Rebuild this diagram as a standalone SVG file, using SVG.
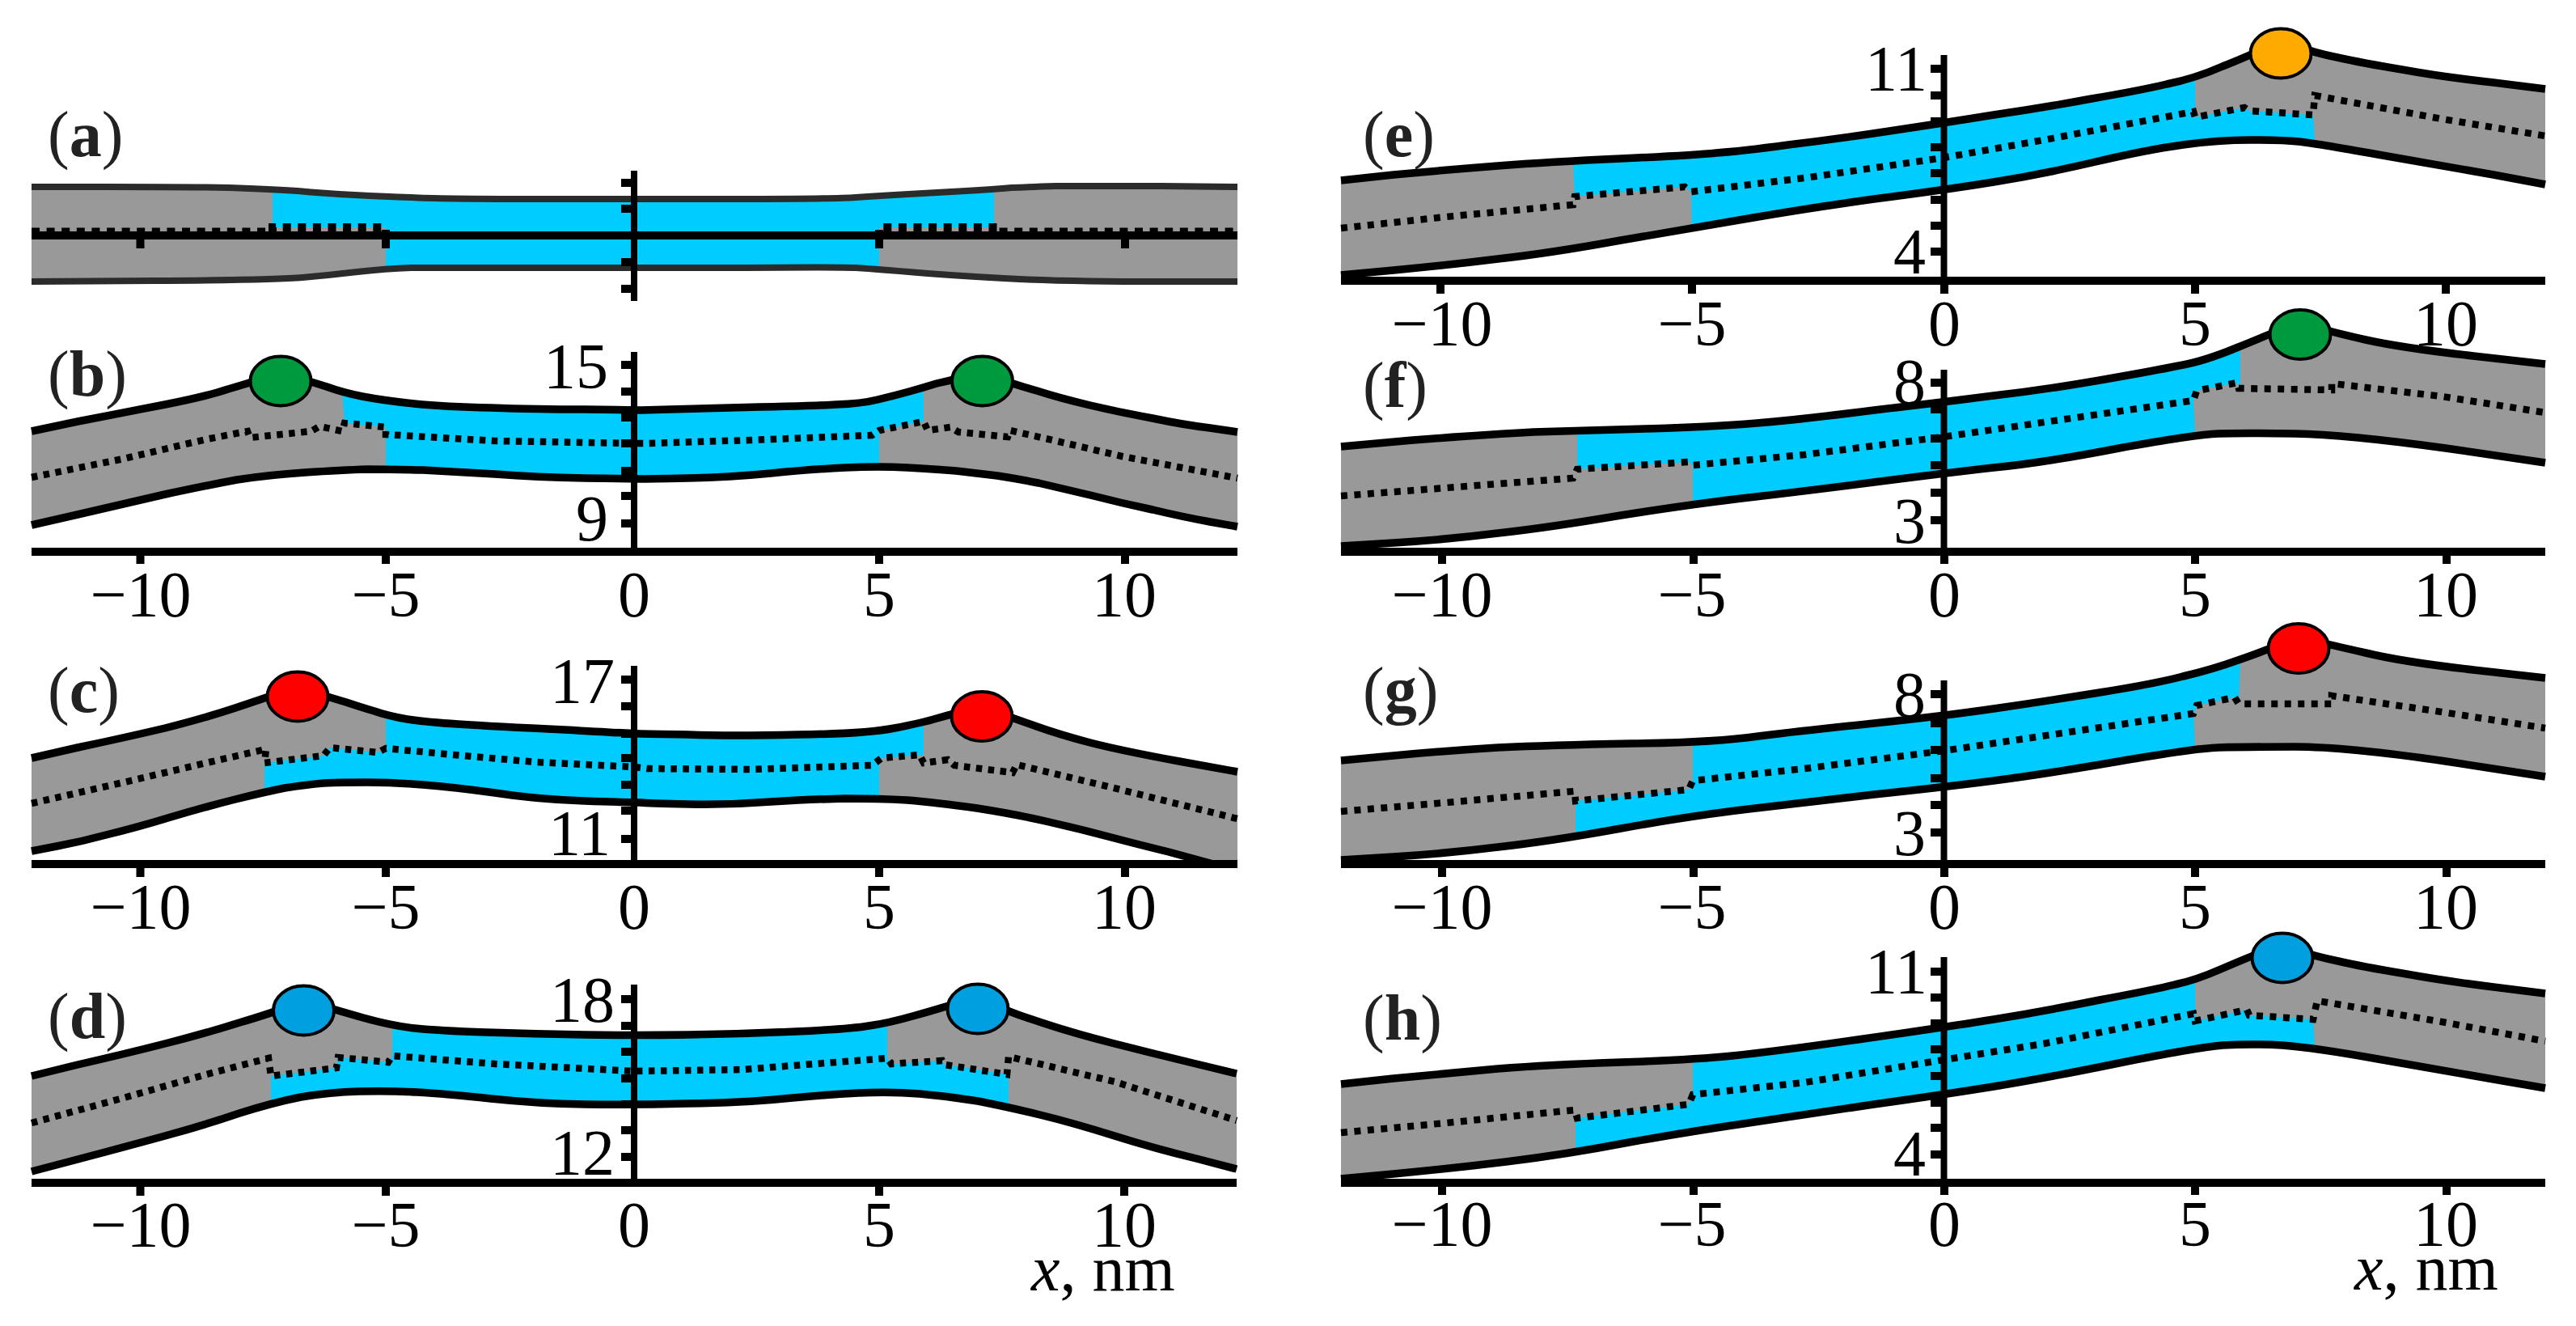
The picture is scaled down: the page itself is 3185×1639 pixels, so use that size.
<svg xmlns="http://www.w3.org/2000/svg" width="3185" height="1639" viewBox="0 0 3185 1639">
<style>
.bg{fill:#fff}
.g{fill:#999}
.b{fill:#0cf}
.e{fill:none;stroke:#000;stroke-width:9.500;stroke-linejoin:round}
.ea{fill:none;stroke:#2b2b2b;stroke-width:8;stroke-linejoin:round}
.d{fill:none;stroke:#000;stroke-width:8.500;stroke-dasharray:7.500 7.500}
.dr{fill:none;stroke:#000;stroke-width:8.500;stroke-dasharray:8 8.500}
.da{fill:none;stroke:#000;stroke-width:10;stroke-dasharray:10 8.600}
.ax{fill:none;stroke:#000;stroke-width:10}
.ay{fill:none;stroke:#000;stroke-width:8}
.c{stroke:#000;stroke-width:4}
text{font-family:"Liberation Serif","Times New Roman",serif;font-size:80px;fill:#000}
.n{text-anchor:middle}
.v{text-anchor:end}
.l{fill:#222}
.l tspan{font-weight:bold}
</style>
<rect class="bg" width="3185" height="1639"/>

<g id="panel-a">
<polygon class="g" points="39,231 230,231 337,234 400,239 477,243 540,246 784,246 1030,246 1087,242 1160,238 1229,234 1274,231 1340,230 1530,231 1530,348 1336,348 1183,341 1087,333 1030,330 784,331 540,331 477,332 408,340 340,346 39,348"/>
<polygon class="b" points="337,234 400,239 477,243 540,246 784,246 1030,246 1087,242 1160,238 1229,234 1229,281 1087,281 1087,333 1030,330 784,331 540,331 477,332 477,281 337,281"/>
<path class="ea" d="M39 231L134 231Q230 231 283 232Q337 234 368 236Q400 239 438 241Q477 243 508 244Q540 246 662 246L907 246Q1030 246 1058 244Q1087 242 1123 240Q1160 238 1194 236Q1229 234 1251 232Q1274 231 1307 230Q1340 230 1435 230L1530 231"/>
<path class="ea" d="M39 348L190 347Q340 346 374 343Q408 340 442 336Q477 332 508 331Q540 331 662 331L907 331Q1030 330 1058 331Q1087 333 1135 337Q1183 341 1260 345Q1336 348 1433 348L1530 348"/>
<path class="da" d="M39 286.500H337V281H477V291H1087V281H1233V286.500H1530"/>
<path class="ax" d="M39 291H1530M173.500 291V307M477 291V307M1087 291V307M1391 291V307M768 226H784M768 258H784M768 291H784M768 324H784M768 357H784"/>
<path class="ay" d="M784 211V372"/>
<text class="l" x="59" y="193">(<tspan>a</tspan>)</text>
</g>

<g id="panel-b">
<polygon class="g" points="39,533 153,510 255,490 309,473 347,462 386,472 423,485 474,495 551,503 663,506 784,507 800,507 1004,502 1065,499 1106,489 1142,479 1175,470 1214,462 1254,475 1310,492 1387,510 1463,525 1530,534 1530,651 1463,639 1387,622 1310,603 1259,592 1208,585 1157,580 1087,576 1004,580 902,590 800,592 784,592 663,590 561,583 485,580 423,581 332,587 255,600 153,623 39,649"/>
<polygon class="b" points="423,485 474,495 551,503 663,506 784,507 800,507 1004,502 1065,499 1106,489 1142,479 1142,521 1087,532 1087,576 1004,580 902,590 800,592 784,592 663,590 561,583 485,580 477,580 477,528 426,523"/>
<path class="e" d="M39 533L96 521Q153 510 204 500Q255 490 282 481Q309 473 328 467Q347 462 366 467Q386 472 404 478Q423 485 448 490Q474 495 512 499Q551 503 607 504Q663 506 723 506Q784 507 792 507Q800 507 902 504Q1004 502 1034 500Q1065 499 1085 494Q1106 489 1124 484Q1142 479 1158 474Q1175 470 1194 466Q1214 462 1234 468Q1254 475 1282 483Q1310 492 1348 501Q1387 510 1425 517Q1463 525 1496 529L1530 534"/>
<path class="e" d="M39 649L96 636Q153 623 204 611Q255 600 293 593Q332 587 377 584Q423 581 454 580Q485 580 523 581Q561 583 612 586Q663 590 723 591Q784 592 792 592Q800 592 851 591Q902 590 953 585Q1004 580 1045 578Q1087 576 1122 578Q1157 580 1182 582Q1208 585 1233 588Q1259 592 1284 597Q1310 603 1348 612Q1387 622 1425 630Q1463 639 1496 645L1530 651"/>
<polyline class="d" points="39,590 153,567 255,543 306,533 309,541 385,533 395,527 423,533 426,523 477,528 477,537 612,545 784,548 800,548 928,544 1078,538 1087,532 1142,521 1147,532 1175,528 1185,534 1246,540 1249,532 1310,546 1387,564 1530,591"/>
<path class="ax" d="M39 682H1530M173.500 682V697M477 682V697M1087 682V697M1391 682V697M768 451H784M768 484H784M768 516H784M768 548H784M768 582H784M768 613H784M768 647H784"/>
<path class="ay" d="M784 435V682"/>
<ellipse class="c" cx="347" cy="471" rx="37.500" ry="30.500" fill="#009a3e"/>
<ellipse class="c" cx="1214.500" cy="471" rx="37.500" ry="30.500" fill="#009a3e"/>
<text class="l" x="59" y="489">(<tspan>b</tspan>)</text>
<text class="v" x="752" y="480">15</text>
<text class="v" x="752" y="668">9</text>
<text class="n" x="174" y="762">−10</text><text class="n" x="477" y="762">−5</text><text class="n" x="784" y="762">0</text><text class="n" x="1087" y="762">5</text><text class="n" x="1390" y="762">10</text>
</g>

<g id="panel-c">
<polygon class="g" points="39,937 153,912 255,887 327,863 368,850 408,862 449,875 477,884 520,892 612,898 784,907 800,907 902,910 1070,907 1142,893 1175,883 1214,875 1254,888 1310,908 1387,928 1530,954 1530,1068 1500,1068 1479,1062 1412,1045 1336,1025 1259,1007 1157,992 1087,987 1004,988 902,995 800,993 784,992 663,988 561,973 485,967 423,967 378,970 327,979 255,997 168,1023 102,1040 39,1052"/>
<polygon class="b" points="477,884 520,892 612,898 784,907 800,907 902,910 1070,907 1142,893 1142,933 1090,937 1087,946 1087,987 1004,988 902,995 800,993 784,992 663,988 561,973 485,967 423,967 378,970 327,979 327,943 400,934 408,924 467,930 477,925"/>
<path class="e" d="M39 937L96 924Q153 912 204 900Q255 887 291 875Q327 863 347 856Q368 850 388 856Q408 862 428 868Q449 875 463 879Q477 884 498 888Q520 892 566 895Q612 898 698 902Q784 907 792 907Q800 907 851 908Q902 910 986 908Q1070 907 1106 900Q1142 893 1158 888Q1175 883 1194 879Q1214 875 1234 881Q1254 888 1282 898Q1310 908 1348 918Q1387 928 1458 941L1530 954"/>
<path class="e" d="M39 1052L70 1046Q102 1040 135 1031Q168 1023 211 1010Q255 997 291 988Q327 979 352 974Q378 970 400 968Q423 967 454 967Q485 967 523 970Q561 973 612 980Q663 988 723 990Q784 992 792 992Q800 993 851 994Q902 995 953 991Q1004 988 1045 987Q1087 987 1122 989Q1157 992 1208 999Q1259 1007 1297 1016Q1336 1025 1374 1035Q1412 1045 1445 1053L1500 1068"/>
<polyline class="d" points="39,993 153,967 255,943 329,926 327,943 400,934 408,924 467,930 477,925 561,933 663,942 784,948 800,950 928,951 1078,946 1090,937 1137,933 1142,943 1172,939 1180,946 1252,955 1257,945 1361,970 1530,1012"/>
<path class="ax" d="M39 1068H1530M173.500 1068V1084M477 1068V1084M1087 1068V1084M1391 1068V1084M768 840H784M768 873H784M768 907H784M768 937H784M768 970H784M768 1002H784M768 1037H784"/>
<path class="ay" d="M784 823V1068"/>
<ellipse class="c" cx="368" cy="861" rx="37.500" ry="30.500" fill="#f00"/>
<ellipse class="c" cx="1214" cy="885.500" rx="37.500" ry="30.500" fill="#f00"/>
<text class="l" x="59" y="880">(<tspan>c</tspan>)</text>
<text class="v" x="760" y="869">17</text>
<text class="v" x="755" y="1057">11</text>
<text class="n" x="174" y="1148">−10</text><text class="n" x="477" y="1148">−5</text><text class="n" x="784" y="1148">0</text><text class="n" x="1087" y="1148">5</text><text class="n" x="1390" y="1148">10</text>
</g>

<g id="panel-d">
<polygon class="g" points="39,1330 153,1303 255,1277 337,1252 375,1236 414,1248 485,1268 541,1274 663,1278 784,1280 918,1278 1051,1272 1097,1265 1168,1245 1209,1232 1250,1252 1327,1277 1429,1303 1529,1327 1529,1445 1429,1420 1327,1388 1245,1368 1173,1355 1102,1349 1020,1353 918,1363 784,1366 663,1364 551,1352 480,1348 408,1350 337,1363 255,1390 153,1418 39,1448"/>
<polygon class="b" points="485,1268 541,1274 663,1278 784,1280 918,1278 1051,1272 1097,1265 1097,1308 1102,1315 1165,1311 1168,1316 1247,1328 1247,1368 1173,1355 1102,1349 1020,1353 918,1363 784,1366 663,1364 551,1352 480,1348 408,1350 337,1363 335,1363 335,1330 416,1320 418,1307 480,1313 485,1305"/>
<path class="e" d="M39 1330L96 1316Q153 1303 204 1290Q255 1277 296 1264Q337 1252 356 1244Q375 1236 394 1242Q414 1248 449 1258Q485 1268 513 1271Q541 1274 602 1276Q663 1278 723 1279Q784 1280 851 1279Q918 1278 984 1275Q1051 1272 1074 1268Q1097 1265 1132 1255Q1168 1245 1188 1238Q1209 1232 1229 1242Q1250 1252 1288 1264Q1327 1277 1378 1290Q1429 1303 1479 1315L1529 1327"/>
<path class="e" d="M39 1448L96 1433Q153 1418 204 1404Q255 1390 296 1376Q337 1363 372 1356Q408 1350 444 1349Q480 1348 515 1350Q551 1352 607 1358Q663 1364 723 1365Q784 1366 851 1364Q918 1363 969 1358Q1020 1353 1061 1351Q1102 1349 1137 1352Q1173 1355 1209 1361Q1245 1368 1286 1378Q1327 1388 1378 1404Q1429 1420 1479 1432L1529 1445"/>
<polyline class="d" points="39,1388 153,1357 255,1328 332,1308 335,1330 416,1320 418,1307 480,1313 485,1305 612,1315 784,1324 918,1322 1097,1308 1102,1315 1165,1311 1168,1316 1245,1328 1247,1306 1378,1337 1529,1385"/>
<path class="ax" d="M39 1462H1529M173.500 1462V1478M477 1462V1478M1087 1462V1478M1390 1462V1478M768 1235H784M768 1268H784M768 1300H784M768 1333H784M768 1365H784M768 1397H784M768 1430H784"/>
<path class="ay" d="M784 1217V1462"/>
<ellipse class="c" cx="375.500" cy="1249" rx="37.500" ry="30.500" fill="#009fe0"/>
<ellipse class="c" cx="1209" cy="1247" rx="37.500" ry="30.500" fill="#009fe0"/>
<text class="l" x="59" y="1283">(<tspan>d</tspan>)</text>
<text class="v" x="760" y="1263">18</text>
<text class="v" x="760" y="1452">12</text>
<text class="n" x="174" y="1541">−10</text><text class="n" x="477" y="1541">−5</text><text class="n" x="784" y="1541">0</text><text class="n" x="1087" y="1541">5</text><text class="n" x="1390" y="1541">10</text>
<text x="1275" y="1595"><tspan font-style="italic">x</tspan>, nm</text>
</g>

<g id="panel-e">
<polygon class="g" points="1658,223 1788,210 1916,200 2093,192 2152,187 2270,172 2403,152 2527,133 2645,112 2714,97 2783,68 2820,50 2860,65 2921,78 3019,95 3147,110 3147,228 3019,205 2862,177 2822,173 2743,173 2655,185 2527,215 2403,235 2231,258 2093,282 1916,313 1788,328 1658,340"/>
<polygon class="b" points="1945,199 2093,192 2152,187 2270,172 2403,152 2527,133 2645,112 2714,97 2714,145 2775,133 2781,137 2860,142 2862,177 2822,173 2743,173 2655,185 2527,215 2403,235 2231,258 2092,282 2091,237 2083,231 1947,243"/>
<path class="e" d="M1658 223L1723 216Q1788 210 1852 205Q1916 200 2004 196Q2093 192 2122 189Q2152 187 2211 179Q2270 172 2336 162Q2403 152 2465 142Q2527 133 2586 122Q2645 112 2679 104Q2714 97 2748 82Q2783 68 2801 59Q2820 50 2840 57Q2860 65 2890 71Q2921 78 2970 86Q3019 95 3083 102L3147 110"/>
<path class="e" d="M1658 340L1723 334Q1788 328 1852 320Q1916 313 2004 297Q2093 282 2162 270Q2231 258 2317 246Q2403 235 2465 225Q2527 215 2591 200Q2655 185 2699 179Q2743 173 2782 173Q2822 173 2842 175Q2862 177 2940 191Q3019 205 3083 216L3147 228"/>
<polyline class="dr" points="1658,282 1788,268 1945,253 1947,243 2083,231 2091,237 2231,220 2403,195 2527,173 2712,138 2714,145 2775,133 2781,137 2860,142 2862,118 3019,147 3147,168"/>
<path class="ax" d="M1658 347H3147M1781 347V363M2092 347V363M2404 347V363M2714 347V363M3024 347V363M2387 85H2404M2387 118H2404M2387 150H2404M2387 182H2404M2387 214H2404M2387 247H2404M2387 279H2404M2387 311H2404"/>
<path class="ay" d="M2403.500 68V347"/>
<ellipse class="c" cx="2820" cy="66" rx="37.500" ry="30.500" fill="#ffaa00"/>
<text class="l" x="1685" y="193">(<tspan>e</tspan>)</text>
<text class="v" x="2383" y="112">11</text>
<text class="v" x="2381" y="338">4</text>
<text class="n" x="1783" y="427">−10</text><text class="n" x="2092" y="427">−5</text><text class="n" x="2404" y="427">0</text><text class="n" x="2714" y="427">5</text><text class="n" x="3024" y="427">10</text>
</g>

<g id="panel-f">
<polygon class="g" points="1658,552 1837,537 1955,532 2113,528 2231,518 2403,497 2527,482 2665,458 2724,447 2807,413 2844,398 2881,410 2970,430 3147,450 3147,572 2901,537 2773,535 2714,537 2527,572 2403,585 2231,607 2093,623 1916,652 1788,667 1658,675"/>
<polygon class="b" points="1950,532 2113,528 2231,518 2403,497 2527,482 2665,458 2724,447 2770,432 2770,480 2766,473 2716,483 2712,495 2714,537 2527,572 2403,585 2231,607 2093,623 2093,575 2088,571 1950,580"/>
<path class="e" d="M1658 552L1747 544Q1837 537 1896 534Q1955 532 2034 530Q2113 528 2172 523Q2231 518 2317 507Q2403 497 2465 489Q2527 482 2596 470Q2665 458 2694 452Q2724 447 2765 430Q2807 413 2825 405Q2844 398 2862 404Q2881 410 2925 420Q2970 430 3058 440L3147 450"/>
<path class="e" d="M1658 675L1723 671Q1788 667 1852 659Q1916 652 2004 637Q2093 623 2162 615Q2231 607 2317 596Q2403 585 2465 578Q2527 572 2620 554Q2714 537 2743 536Q2773 535 2837 536Q2901 537 3024 554L3147 572"/>
<polyline class="dr" points="1658,613 1788,603 1945,591 1950,580 2088,571 2093,575 2231,562 2403,540 2712,495 2716,483 2766,473 2768,480 2883,482 2883,474 3019,490 3147,510"/>
<path class="ax" d="M1658 682H3147M1783 682V697M2094 682V697M2404 682V697M2714 682V697M3025 682V697M2387 473H2404M2387 506H2404M2387 542H2404M2387 575H2404M2387 609H2404M2387 643H2404"/>
<path class="ay" d="M2403.500 457V682"/>
<ellipse class="c" cx="2844" cy="413.500" rx="37.500" ry="30.500" fill="#009a3e"/>
<text class="l" x="1685" y="503">(<tspan>f</tspan>)</text>
<text class="v" x="2381" y="499">8</text>
<text class="v" x="2381" y="671">3</text>
<text class="n" x="1783" y="762">−10</text><text class="n" x="2092" y="762">−5</text><text class="n" x="2404" y="762">0</text><text class="n" x="2714" y="762">5</text><text class="n" x="3024" y="762">10</text>
</g>

<g id="panel-g">
<polygon class="g" points="1658,940 1788,928 1916,921 2118,918 2231,903 2403,885 2527,867 2665,845 2734,828 2807,802 2842,787 2881,797 2970,818 3147,838 3147,960 2901,923 2773,923 2714,925 2527,957 2403,973 2231,992 2093,1008 1916,1040 1788,1055 1658,1063"/>
<polygon class="b" points="2093,918 2118,918 2231,903 2403,885 2527,867 2665,845 2734,828 2770,815 2768,870 2763,862 2716,872 2712,882 2714,925 2527,957 2403,973 2231,992 2093,1008 1948,1034 1948,990 2088,976 2093,965"/>
<path class="e" d="M1658 940L1723 934Q1788 928 1852 924Q1916 921 2017 919Q2118 918 2174 910Q2231 903 2317 894Q2403 885 2465 876Q2527 867 2596 856Q2665 845 2699 836Q2734 828 2770 815Q2807 802 2824 794Q2842 787 2861 792Q2881 797 2925 807Q2970 818 3058 828L3147 838"/>
<path class="e" d="M1658 1063L1723 1059Q1788 1055 1852 1047Q1916 1040 2004 1024Q2093 1008 2162 1000Q2231 992 2317 982Q2403 973 2465 965Q2527 957 2620 941Q2714 925 2743 924Q2773 923 2837 923Q2901 923 3024 941L3147 960"/>
<polyline class="dr" points="1658,1003 1788,992 1947,978 1948,990 2088,976 2093,965 2231,950 2403,928 2712,882 2716,872 2763,862 2768,870 2883,870 2883,860 3019,880 3147,900"/>
<path class="ax" d="M1658 1068H3147M1783 1068V1084M2094 1068V1084M2404 1068V1084M2714 1068V1084M3025 1068V1084M2387 858H2404M2387 894H2404M2387 927H2404M2387 962H2404M2387 995H2404M2387 1029H2404"/>
<path class="ay" d="M2403.500 841V1068"/>
<ellipse class="c" cx="2842" cy="801.500" rx="37.500" ry="30.500" fill="#f00"/>
<text class="l" x="1685" y="880">(<tspan>g</tspan>)</text>
<text class="v" x="2381" y="886">8</text>
<text class="v" x="2381" y="1057">3</text>
<text class="n" x="1783" y="1148">−10</text><text class="n" x="2092" y="1148">−5</text><text class="n" x="2404" y="1148">0</text><text class="n" x="2714" y="1148">5</text><text class="n" x="3024" y="1148">10</text>
</g>

<g id="panel-h">
<polygon class="g" points="1658,1340 1788,1327 1916,1316 2093,1310 2192,1300 2403,1270 2527,1250 2665,1223 2714,1212 2783,1182 2822,1168 2862,1182 2921,1195 3019,1212 3147,1228 3147,1345 3019,1323 2862,1295 2783,1290 2714,1295 2527,1333 2403,1353 2231,1378 2093,1398 1936,1427 1788,1445 1658,1457"/>
<polygon class="b" points="2093,1310 2192,1300 2403,1270 2527,1250 2665,1223 2714,1212 2714,1262 2778,1248 2781,1255 2860,1260 2862,1295 2783,1290 2714,1295 2527,1333 2403,1353 2231,1378 2093,1398 1948,1425 1948,1382 2088,1365 2093,1353"/>
<path class="e" d="M1658 1340L1723 1333Q1788 1327 1852 1321Q1916 1316 2004 1313Q2093 1310 2142 1305Q2192 1300 2297 1285Q2403 1270 2465 1260Q2527 1250 2596 1236Q2665 1223 2689 1217Q2714 1212 2748 1197Q2783 1182 2802 1175Q2822 1168 2842 1175Q2862 1182 2891 1188Q2921 1195 2970 1203Q3019 1212 3083 1220L3147 1228"/>
<path class="e" d="M1658 1457L1723 1451Q1788 1445 1862 1436Q1936 1427 2014 1412Q2093 1398 2162 1388Q2231 1378 2317 1365Q2403 1353 2465 1343Q2527 1333 2620 1314Q2714 1295 2748 1292Q2783 1290 2822 1292Q2862 1295 2940 1309Q3019 1323 3083 1334L3147 1345"/>
<polyline class="dr" points="1658,1400 1788,1388 1947,1372 1950,1382 2088,1365 2093,1353 2231,1338 2403,1310 2527,1290 2712,1253 2714,1262 2778,1248 2781,1255 2860,1260 2865,1237 3019,1263 3147,1287"/>
<path class="ax" d="M1658 1462H3147M1783 1462V1477M2094 1462V1477M2404 1462V1477M2714 1462V1477M3025 1462V1477M2387 1201H2404M2387 1233H2404M2387 1265H2404M2387 1297H2404M2387 1330H2404M2387 1363H2404M2387 1394H2404M2387 1427H2404"/>
<path class="ay" d="M2403.500 1183V1462"/>
<ellipse class="c" cx="2822" cy="1184" rx="37.500" ry="30.500" fill="#009fe0"/>
<text class="l" x="1685" y="1285">(<tspan>h</tspan>)</text>
<text class="v" x="2383" y="1228">11</text>
<text class="v" x="2381" y="1453">4</text>
<text class="n" x="1783" y="1540">−10</text><text class="n" x="2092" y="1540">−5</text><text class="n" x="2404" y="1540">0</text><text class="n" x="2714" y="1540">5</text><text class="n" x="3024" y="1540">10</text>
<text x="2911" y="1594"><tspan font-style="italic">x</tspan>, nm</text>
</g>
</svg>
